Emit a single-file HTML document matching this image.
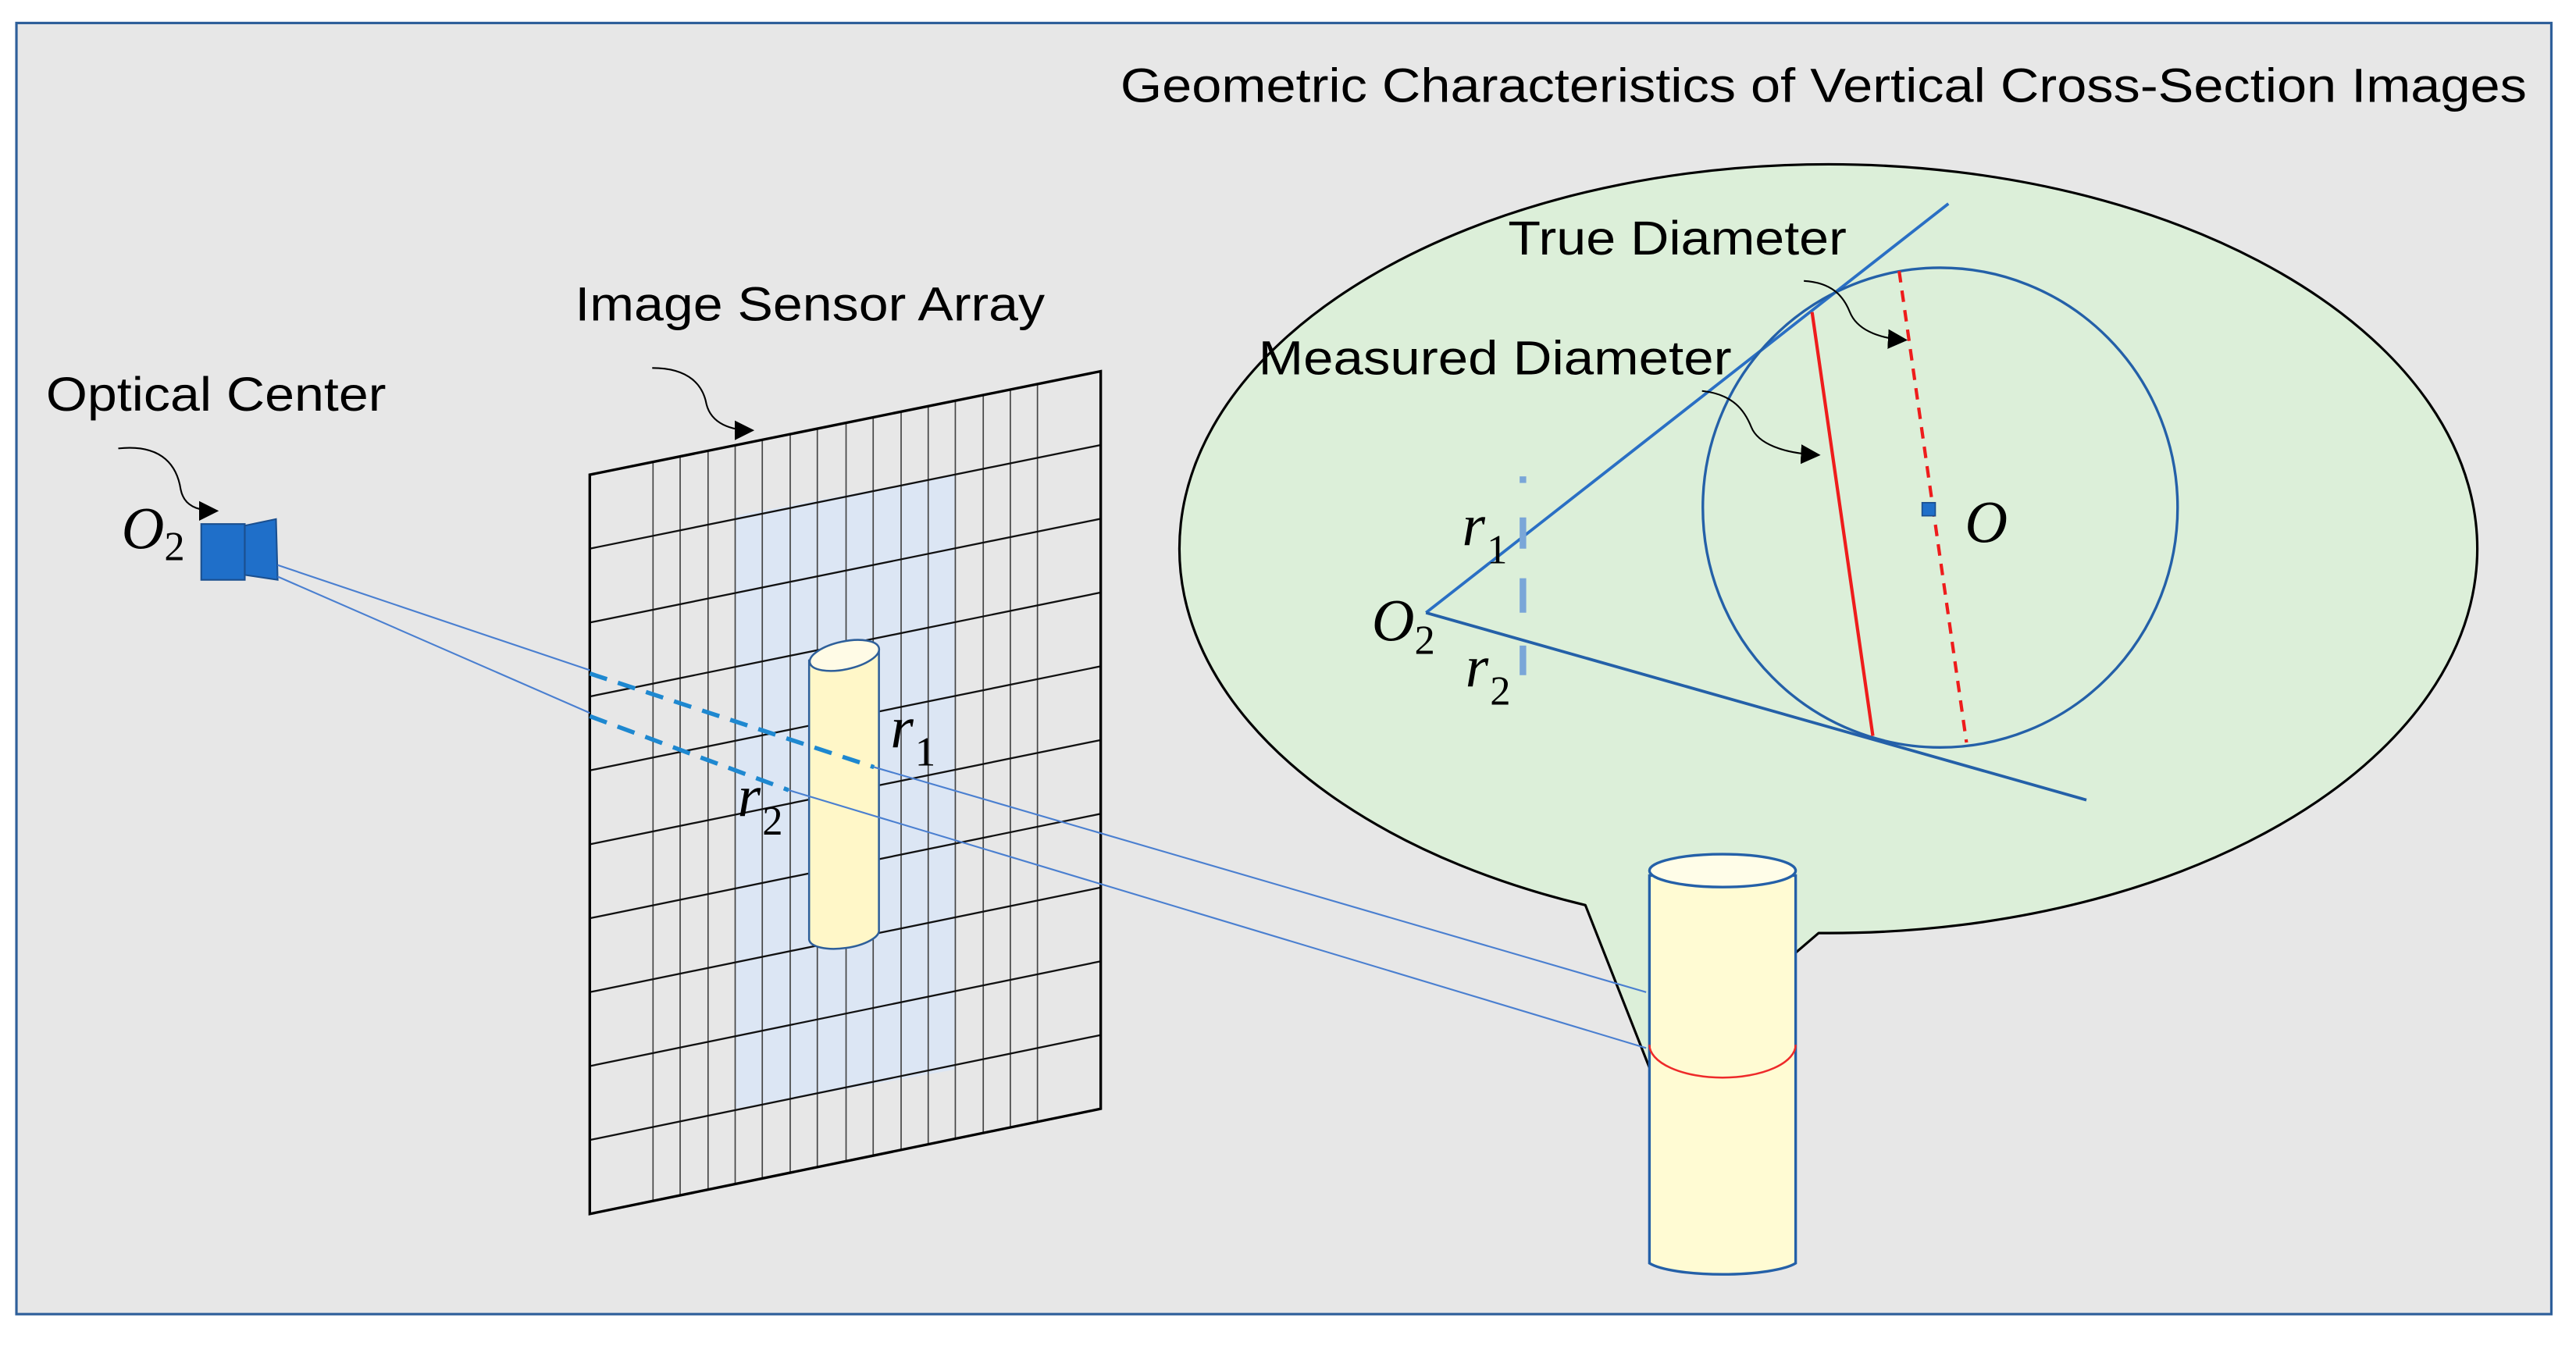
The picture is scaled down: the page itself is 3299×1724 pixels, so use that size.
<!DOCTYPE html>
<html><head><meta charset="utf-8"><style>
html,body{margin:0;padding:0;background:#fff;}
svg{display:block;}
.t{font-family:"Liberation Sans",sans-serif;font-size:29px;fill:#000;}
.m{font-family:"Liberation Serif",serif;font-style:italic;fill:#000;}
.s{font-family:"Liberation Serif",serif;fill:#000;}
</style></head><body>
<svg width="3299" height="1724" viewBox="0 0 1568 819.4" preserveAspectRatio="none" xmlns="http://www.w3.org/2000/svg">
<defs>
<marker id="ah" viewBox="0 0 10 10" refX="9" refY="5" markerWidth="12" markerHeight="12" orient="auto" markerUnits="userSpaceOnUse">
<path d="M0,0 L10,5 L0,10 z" fill="#000"/></marker>
</defs>
<rect x="0" y="0" width="1568" height="820" fill="#fff"/>
<rect x="10" y="14" width="1543" height="786" fill="#e7e7e7" stroke="#2e5f9a" stroke-width="1.5"/>

<text class="t" x="682" y="62" textLength="856" lengthAdjust="spacingAndGlyphs">Geometric Characteristics of Vertical Cross-Section Images</text>
<text class="t" x="28" y="250" textLength="207" lengthAdjust="spacingAndGlyphs">Optical Center</text>
<text class="t" x="350" y="195" textLength="286" lengthAdjust="spacingAndGlyphs">Image Sensor Array</text>

<path d="M72,273 C100,270 108,285 110,298 C112,308 120,311 132,311" fill="none" stroke="#000" stroke-width="1" marker-end="url(#ah)"/>
<path d="M397,224 C420,224 428,235 430,246 C433,258 445,262 458,262" fill="none" stroke="#000" stroke-width="1" marker-end="url(#ah)"/>

<polygon points="447.5,314 581.5,289 581.5,651 447.5,675" fill="#dce6f4"/>
<g stroke="#444" stroke-width="0.8" fill="none" id="grid"></g>
<polygon points="359,289 670,226 670,675 359,739" fill="none" stroke="#000" stroke-width="1.6"/>

<path d="M492.5,402 L492.5,572 A21,8 -8 0 0 535,566 L535,396 Z" fill="#fff7c8" stroke="#2e5f9a" stroke-width="1.2"/>
<ellipse cx="514" cy="399" rx="21.5" ry="8.5" transform="rotate(-12 514 399)" fill="#fffbe6" stroke="#2e5f9a" stroke-width="1.2"/>

<rect x="122.5" y="319" width="26.5" height="34" fill="#1f6fc9" stroke="#1a4f8f" stroke-width="1"/>
<polygon points="149,320 168,316 169,353 149,350" fill="#1f6fc9" stroke="#1a4f8f" stroke-width="1"/>
<text class="m" x="74" y="334" font-size="36">O</text><text class="s" x="100" y="341" font-size="25">2</text>

<path d="M965,551 A395,234 0 1 1 1107,568 L1093,580 L1004,650 Z" fill="#dcefd9" stroke="#000" stroke-width="1.5" stroke-linejoin="round"/>

<g stroke="#4a7fd0" stroke-width="1">
<line x1="169" y1="344" x2="359" y2="408"/>
<line x1="532" y1="467" x2="1002" y2="604"/>
<line x1="169" y1="351" x2="359" y2="434"/>
<line x1="480" y1="481" x2="1002" y2="638"/>
</g>
<g stroke="#1e88d0" stroke-width="2.6" stroke-dasharray="11,7">
<line x1="359" y1="410" x2="532" y2="467"/>
<line x1="359" y1="436" x2="480" y2="481"/>
</g>
<text class="m" x="542" y="455" font-size="36">r</text><text class="s" x="557" y="466" font-size="25">1</text>
<text class="m" x="449" y="497" font-size="36">r</text><text class="s" x="464" y="508" font-size="25">2</text>

<line x1="868" y1="373" x2="1186" y2="124" stroke="#2a6fc4" stroke-width="1.8"/>
<line x1="868" y1="373" x2="1270" y2="487" stroke="#2460a8" stroke-width="1.8"/>
<ellipse cx="1181" cy="309" rx="144.5" ry="146" fill="none" stroke="#2460a8" stroke-width="1.6"/>
<line x1="1103" y1="190" x2="1140" y2="448" stroke="#ee1c1c" stroke-width="2"/>
<line x1="1156" y1="165" x2="1197" y2="452" stroke="#ee1c1c" stroke-width="2" stroke-dasharray="7,5"/>
<rect x="1170" y="306" width="8" height="8" fill="#1f6fc9" stroke="#1a4f8f" stroke-width="0.8"/>
<text class="m" x="1196" y="330" font-size="36">O</text>
<g stroke="#7aa6d8" stroke-width="4">
<line x1="927" y1="290" x2="927" y2="294"/>
<line x1="927" y1="315" x2="927" y2="334"/>
<line x1="927" y1="352" x2="927" y2="373"/>
<line x1="927" y1="393" x2="927" y2="411"/>
</g>
<text class="m" x="890" y="332" font-size="36">r</text><text class="s" x="905" y="343" font-size="25">1</text>
<text class="m" x="892" y="418" font-size="36">r</text><text class="s" x="907" y="429" font-size="25">2</text>
<text class="m" x="835" y="390" font-size="36">O</text><text class="s" x="861" y="398" font-size="25">2</text>
<text class="t" x="918" y="155" textLength="206" lengthAdjust="spacingAndGlyphs">True Diameter</text>
<text class="t" x="766" y="228" textLength="288" lengthAdjust="spacingAndGlyphs">Measured Diameter</text>
<path d="M1098,171 C1115,172 1122,180 1126,190 C1130,200 1142,206 1160,207" fill="none" stroke="#000" stroke-width="1" marker-end="url(#ah)"/>
<path d="M1036,238 C1055,240 1062,250 1066,260 C1070,270 1085,276 1107,277" fill="none" stroke="#000" stroke-width="1" marker-end="url(#ah)"/>

<path d="M1004,533 L1004,769 A47,10 0 0 0 1093,769 L1093,533 Z" fill="#fffbd3" stroke="#2460a8" stroke-width="1.6"/>
<ellipse cx="1048.5" cy="530" rx="44.5" ry="10" fill="#fffde8" stroke="#2460a8" stroke-width="1.6"/>
<path d="M1004,636 A44.5,20 0 0 0 1093,636" fill="none" stroke="#ee2a2a" stroke-width="1.2"/>
</svg>
<script>
(function(){
var g=document.getElementById('grid');var ns='http://www.w3.org/2000/svg';
var xs=[397.5,414,431,447.5,464,481,497.5,515,531.5,548.5,565,581.5,598.5,615,631.5];
function ty(x){return 289+(226-289)*(x-359)/311;}
function by(x){return 739+(675-739)*(x-359)/311;}
xs.forEach(function(x){var l=document.createElementNS(ns,'line');l.setAttribute('x1',x);l.setAttribute('y1',ty(x));l.setAttribute('x2',x);l.setAttribute('y2',by(x));g.appendChild(l);});
for(var k=1;k<10;k++){var l=document.createElementNS(ns,'line');l.setAttribute('x1',359);l.setAttribute('y1',289+k*45);l.setAttribute('x2',670);l.setAttribute('y2',226+k*44.9);l.setAttribute('stroke','#111');l.setAttribute('stroke-width','1.1');g.appendChild(l);}
})();
</script>
</body></html>
